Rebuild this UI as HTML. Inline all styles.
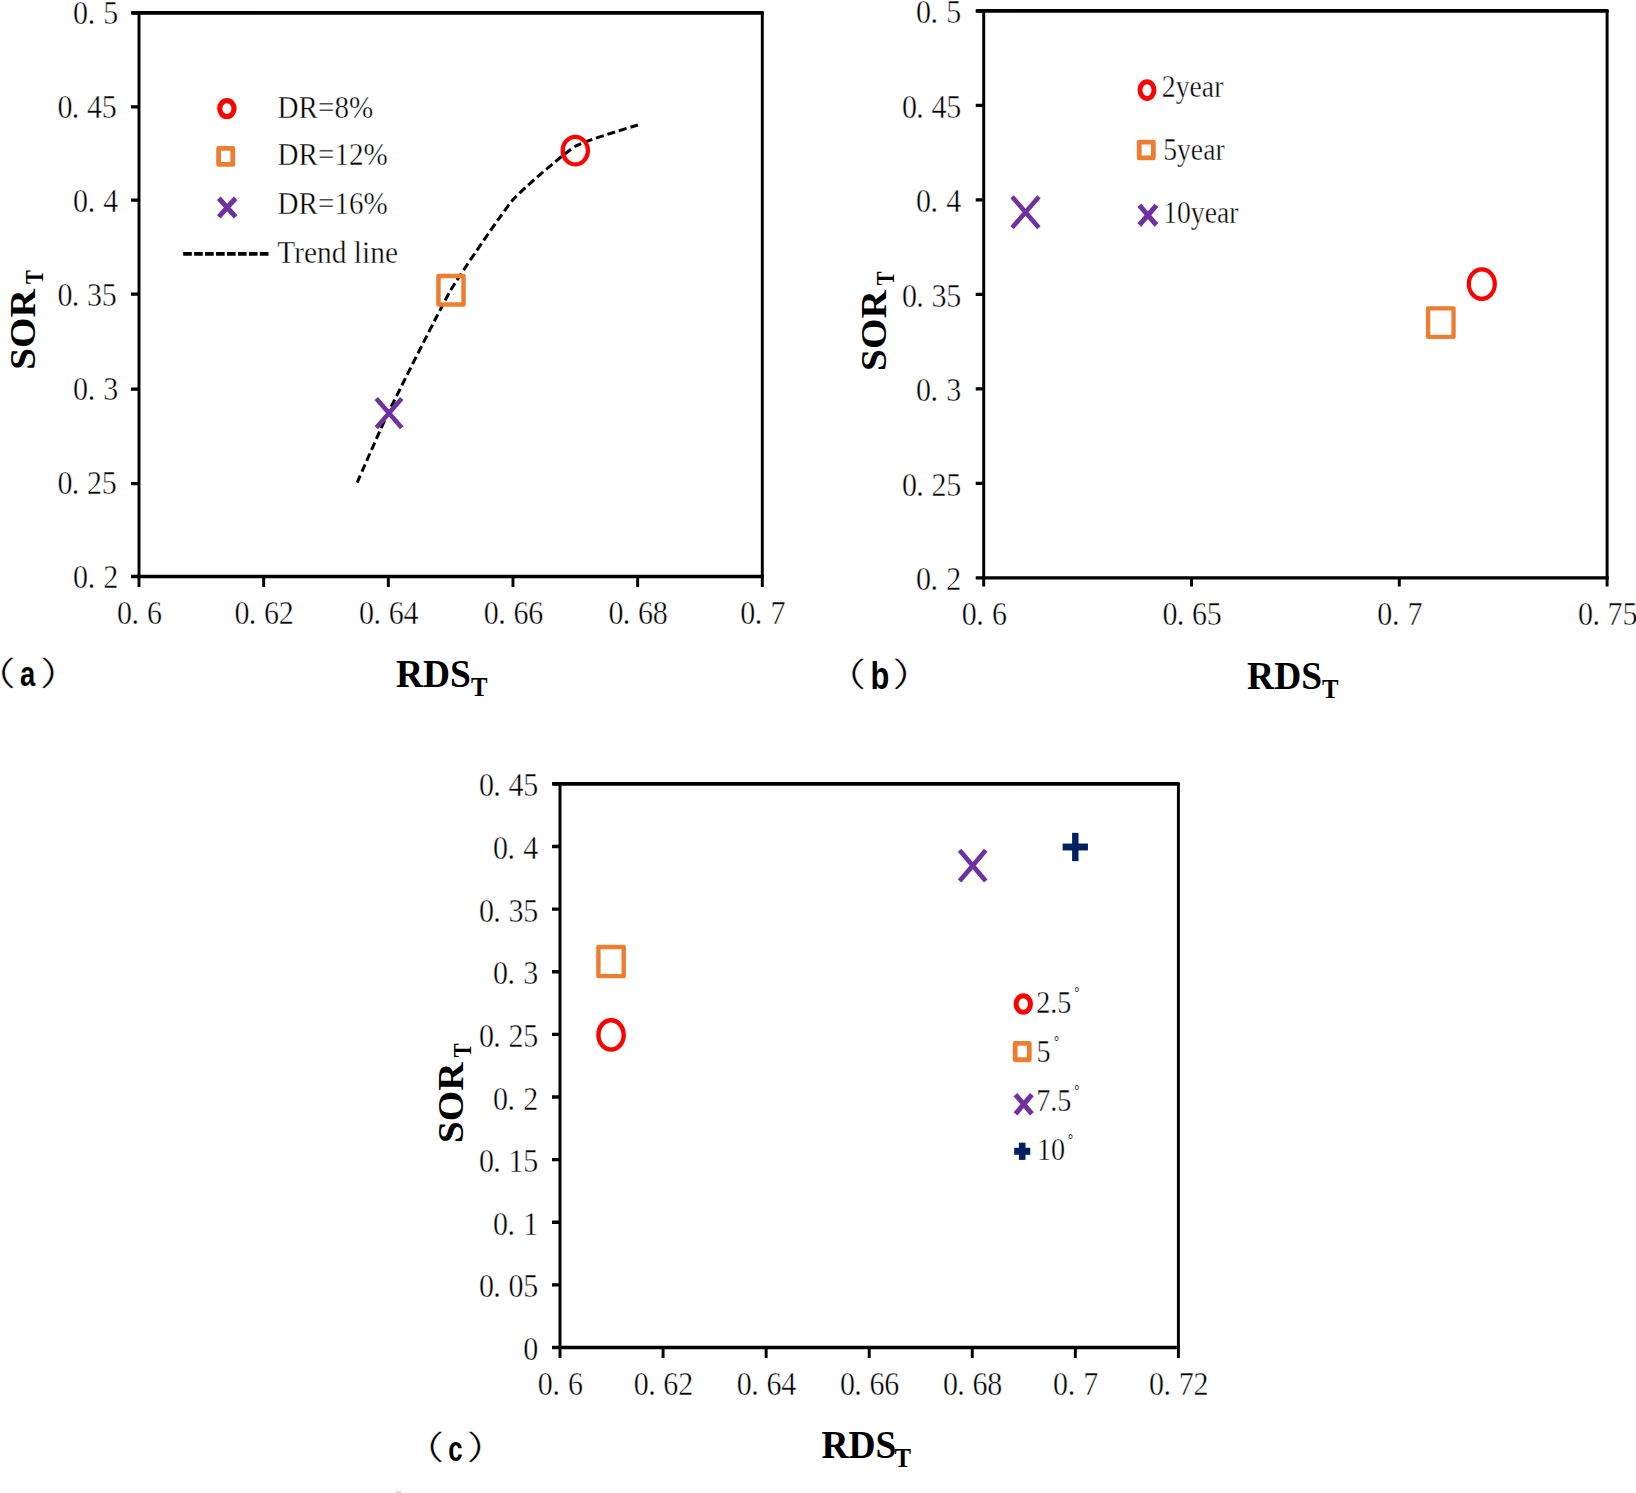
<!DOCTYPE html>
<html lang="en"><head><meta charset="utf-8"><title>SOR_T versus RDS_T</title>
<style>
html,body{margin:0;padding:0;background:#fff}
body{width:1636px;height:1493px;overflow:hidden}
svg{display:block}
text{fill:#000;white-space:pre}
.d{font-family:"Liberation Serif","Noto Serif CJK SC",serif;font-size:34.5px;stroke:#fff;stroke-width:.45px}
.s{font-family:"Liberation Serif","Noto Serif CJK SC",serif;stroke:#fff;stroke-width:.4px}
.g{font-family:"Liberation Serif","Noto Serif CJK SC",serif;fill:#222}
.b{font-family:"Liberation Serif","Noto Serif CJK SC",serif;font-weight:700}
.t{font-family:"Liberation Sans","Noto Sans CJK SC",sans-serif;font-weight:700}
.p{font-family:"Liberation Sans","Noto Sans CJK SC",sans-serif;font-weight:400;stroke:#fff;stroke-width:.45px}
</style></head><body>
<svg width="1636" height="1493" viewBox="0 0 1636 1493">
<rect width="1636" height="1493" fill="#fff"/>
<path d="M132.9 12.85H762.3" stroke="#000" stroke-width="3.8" fill="none" stroke-linecap="round"/>
<path d="M139.0 576.5H762.3" stroke="#000" stroke-width="3.3" fill="none" stroke-linecap="square"/>
<path d="M139.0 12.85V576.5M762.3 12.85V576.5" stroke="#000" stroke-width="2.95" fill="none" stroke-linecap="round"/>
<path d="M139.00 576.5V587.0M263.66 576.5V587.0M388.32 576.5V587.0M512.98 576.5V587.0M637.64 576.5V587.0M762.30 576.5V587.0" stroke="#000" stroke-width="2.95" fill="none"/>
<path d="M139.0 576.50H131.0M139.0 483.60H131.0M139.0 389.10H131.0M139.0 294.10H131.0M139.0 200.20H131.0M139.0 106.80H131.0M139.0 12.85H131.0" stroke="#000" stroke-width="3.3" fill="none"/>
<text class="d" transform="scale(0.87,1)" x="83.96 100.77 118.67" y="588.00">0.2</text>
<text class="d" transform="scale(0.87,1)" x="65.97 82.53 100.00 117.01" y="494.06">0.25</text>
<text class="d" transform="scale(0.87,1)" x="83.96 100.77 118.67" y="400.12">0.3</text>
<text class="d" transform="scale(0.87,1)" x="65.97 82.53 100.00 117.01" y="306.17">0.35</text>
<text class="d" transform="scale(0.87,1)" x="83.96 100.77 118.67" y="212.23">0.4</text>
<text class="d" transform="scale(0.87,1)" x="65.97 82.53 100.00 117.01" y="118.29">0.45</text>
<text class="d" transform="scale(0.87,1)" x="83.96 100.77 118.67" y="24.35">0.5</text>
<text class="d" transform="scale(0.87,1)" x="134.36 151.17 169.08" y="623.60">0.6</text>
<text class="d" transform="scale(0.87,1)" x="269.49 286.05 303.51 320.52" y="623.60">0.62</text>
<text class="d" transform="scale(0.87,1)" x="412.78 429.34 446.80 463.81" y="623.60">0.64</text>
<text class="d" transform="scale(0.87,1)" x="556.06 572.63 590.09 607.10" y="623.60">0.66</text>
<text class="d" transform="scale(0.87,1)" x="699.35 715.91 733.37 750.39" y="623.60">0.68</text>
<text class="d" transform="scale(0.87,1)" x="850.80 867.61 885.51" y="623.60">0.7</text>
<path d="M357.16 482.56C359.49 477.32 381.31 427.08 388.32 412.67C395.33 398.25 441.30 306.32 450.65 290.35C460.00 274.39 503.63 210.60 512.98 199.79C522.33 188.99 565.91 151.87 575.31 146.25C584.71 140.62 633.54 126.43 638.26 124.83" fill="none" stroke="#000" stroke-width="3" stroke-dasharray="8 3.9"/>
<ellipse cx="575.30" cy="150.60" rx="12.60" ry="13.80" fill="none" stroke="#FF0000" stroke-width="4.3"/>
<rect x="438.45" y="276.05" width="25.10" height="28.50" fill="none" stroke="#ED7D31" stroke-width="4.5" stroke-linejoin="round"/>
<path d="M376.28 398.51L401.72 427.69M376.28 427.69L401.72 398.51" fill="none" stroke="#7030A0" stroke-width="4.6"/>
<ellipse cx="226.90" cy="108.60" rx="7.15" ry="7.90" fill="none" stroke="#FF0000" stroke-width="5.2"/>
<rect x="218.60" y="148.40" width="14.20" height="16.00" fill="none" stroke="#ED7D31" stroke-width="4.8" stroke-linejoin="round"/>
<path d="M218.81 198.27L235.59 216.93M218.81 216.93L235.59 198.27" fill="none" stroke="#7030A0" stroke-width="5.0"/>
<path d="M183.2 253.8H268.6" stroke="#000" stroke-width="3.8" stroke-dasharray="8.6 2.35" fill="none"/>
<text class="s" transform="translate(277.60,117.80) scale(0.945,1)" font-size="30.8" >DR=8%</text>
<text class="s" transform="translate(277.60,165.10) scale(0.945,1)" font-size="30.8" >DR=12%</text>
<text class="s" transform="translate(277.60,213.80) scale(0.945,1)" font-size="30.8" >DR=16%</text>
<text class="s" transform="translate(277.30,263.10) scale(0.934,1)" font-size="31.5" >Trend line</text>
<text class="b" transform="translate(35.40,369.80) rotate(-90) scale(1,0.925)" font-size="39.2">SOR</text>
<text class="b" transform="translate(43.20,284.10) rotate(-90) scale(0.78,0.925)" font-size="26.6">T</text>
<text class="b" transform="translate(396.00,686.50) scale(0.925,1)" font-size="40.5">RDS<tspan font-size="26.8" dy="9" dx="0">T</tspan></text>
<text class="p" transform="translate(-30.80,685.10) scale(1.42,1)" font-size="33">（</text>
<text class="t" transform="translate(19.90,686.30) scale(0.76,1)" font-size="36">a</text>
<text class="p" transform="translate(39.60,685.10) scale(1.42,1)" font-size="33">）</text>
<path d="M977.6 10.95H1607.1" stroke="#000" stroke-width="3.8" fill="none" stroke-linecap="round"/>
<path d="M983.7 577.8H1607.1" stroke="#000" stroke-width="3.3" fill="none" stroke-linecap="square"/>
<path d="M983.7 10.95V577.8M1607.1 10.95V577.8" stroke="#000" stroke-width="2.95" fill="none" stroke-linecap="round"/>
<path d="M983.70 577.8V586.4M1191.50 577.8V586.4M1399.30 577.8V586.4M1607.10 577.8V586.4" stroke="#000" stroke-width="2.95" fill="none"/>
<path d="M983.7 577.80H975.7M983.7 483.32H975.7M983.7 388.85H975.7M983.7 294.37H975.7M983.7 199.90H975.7M983.7 105.43H975.7M983.7 10.95H975.7" stroke="#000" stroke-width="3.3" fill="none"/>
<text class="d" transform="scale(0.87,1)" x="1052.81 1069.62 1087.52" y="590.20">0.2</text>
<text class="d" transform="scale(0.87,1)" x="1036.66 1053.22 1070.69 1087.70" y="495.72">0.25</text>
<text class="d" transform="scale(0.87,1)" x="1052.81 1069.62 1087.52" y="401.25">0.3</text>
<text class="d" transform="scale(0.87,1)" x="1036.66 1053.22 1070.69 1087.70" y="306.77">0.35</text>
<text class="d" transform="scale(0.87,1)" x="1052.81 1069.62 1087.52" y="212.30">0.4</text>
<text class="d" transform="scale(0.87,1)" x="1036.66 1053.22 1070.69 1087.70" y="117.83">0.45</text>
<text class="d" transform="scale(0.87,1)" x="1052.81 1069.62 1087.52" y="23.35">0.5</text>
<text class="d" transform="scale(0.87,1)" x="1105.40 1122.21 1140.11" y="624.80">0.6</text>
<text class="d" transform="scale(0.87,1)" x="1336.09 1352.65 1370.11 1387.12" y="624.80">0.65</text>
<text class="d" transform="scale(0.87,1)" x="1583.10 1599.91 1617.81" y="624.80">0.7</text>
<text class="d" transform="scale(0.87,1)" x="1813.79 1830.35 1847.81 1864.82" y="624.80">0.75</text>
<ellipse cx="1481.80" cy="284.10" rx="13.00" ry="14.70" fill="none" stroke="#FF0000" stroke-width="4.2"/>
<rect x="1428.05" y="308.30" width="25.50" height="28.60" fill="none" stroke="#ED7D31" stroke-width="4.3" stroke-linejoin="round"/>
<path d="M1012.09 196.76L1038.91 227.64M1012.09 227.64L1038.91 196.76" fill="none" stroke="#7030A0" stroke-width="4.6"/>
<ellipse cx="1147.00" cy="90.10" rx="7.00" ry="8.40" fill="none" stroke="#FF0000" stroke-width="4.9"/>
<rect x="1139.25" y="142.05" width="14.10" height="15.90" fill="none" stroke="#ED7D31" stroke-width="4.8" stroke-linejoin="round"/>
<path d="M1139.39 205.39L1156.41 225.01M1139.39 225.01L1156.41 205.39" fill="none" stroke="#7030A0" stroke-width="5.0"/>
<text class="s" transform="translate(1161.80,96.80) scale(0.895,1)" font-size="31" >2year</text>
<text class="s" transform="translate(1163.20,160.10) scale(0.893,1)" font-size="31" >5year</text>
<text class="s" transform="translate(1163.20,223.40) scale(0.893,1)" font-size="31" >10year</text>
<text class="b" transform="translate(886.30,370.90) rotate(-90) scale(1,0.925)" font-size="39.2">SOR</text>
<text class="b" transform="translate(894.10,285.20) rotate(-90) scale(0.78,0.925)" font-size="26.6">T</text>
<text class="b" transform="translate(1247.10,688.60) scale(0.925,1)" font-size="40.5">RDS<tspan font-size="26.8" dy="9" dx="0">T</tspan></text>
<text class="p" transform="translate(819.60,686.40) scale(1.42,1)" font-size="33">（</text>
<text class="t" transform="translate(870.60,688.50) scale(0.8,1)" font-size="38.5">b</text>
<text class="p" transform="translate(891.90,686.40) scale(1.42,1)" font-size="33">）</text>
<path d="M553.9 783.85H1178.4" stroke="#000" stroke-width="3.8" fill="none" stroke-linecap="round"/>
<path d="M560.0 1347.5H1178.4" stroke="#000" stroke-width="3.3" fill="none" stroke-linecap="square"/>
<path d="M560.0 783.85V1347.5M1178.4 783.85V1347.5" stroke="#000" stroke-width="2.95" fill="none" stroke-linecap="round"/>
<path d="M560.00 1347.5V1358.0M663.07 1347.5V1358.0M766.13 1347.5V1358.0M869.20 1347.5V1358.0M972.27 1347.5V1358.0M1075.33 1347.5V1358.0M1178.40 1347.5V1358.0" stroke="#000" stroke-width="2.95" fill="none"/>
<path d="M560.0 1347.50H552.0M560.0 1284.87H552.0M560.0 1222.24H552.0M560.0 1159.62H552.0M560.0 1096.99H552.0M560.0 1034.36H552.0M560.0 971.73H552.0M560.0 909.11H552.0M560.0 846.48H552.0M560.0 783.85H552.0" stroke="#000" stroke-width="3.3" fill="none"/>
<text class="d" transform="scale(0.87,1)" x="601.32" y="1360.10">0</text>
<text class="d" transform="scale(0.87,1)" x="550.46 567.02 584.48 601.49" y="1297.47">0.05</text>
<text class="d" transform="scale(0.87,1)" x="566.60 583.41 601.32" y="1234.84">0.1</text>
<text class="d" transform="scale(0.87,1)" x="550.46 567.02 584.48 601.49" y="1172.22">0.15</text>
<text class="d" transform="scale(0.87,1)" x="566.60 583.41 601.32" y="1109.59">0.2</text>
<text class="d" transform="scale(0.87,1)" x="550.46 567.02 584.48 601.49" y="1046.96">0.25</text>
<text class="d" transform="scale(0.87,1)" x="566.60 583.41 601.32" y="984.33">0.3</text>
<text class="d" transform="scale(0.87,1)" x="550.46 567.02 584.48 601.49" y="921.71">0.35</text>
<text class="d" transform="scale(0.87,1)" x="566.60 583.41 601.32" y="859.08">0.4</text>
<text class="d" transform="scale(0.87,1)" x="550.46 567.02 584.48 601.49" y="796.45">0.45</text>
<text class="d" transform="scale(0.87,1)" x="618.16 634.97 652.87" y="1394.80">0.6</text>
<text class="d" transform="scale(0.87,1)" x="728.46 745.02 762.49 779.50" y="1394.80">0.62</text>
<text class="d" transform="scale(0.87,1)" x="846.93 863.49 880.95 897.97" y="1394.80">0.64</text>
<text class="d" transform="scale(0.87,1)" x="965.40 981.96 999.42 1016.43" y="1394.80">0.66</text>
<text class="d" transform="scale(0.87,1)" x="1083.87 1100.43 1117.89 1134.90" y="1394.80">0.68</text>
<text class="d" transform="scale(0.87,1)" x="1210.49 1227.30 1245.21" y="1394.80">0.7</text>
<text class="d" transform="scale(0.87,1)" x="1320.80 1337.36 1354.82 1371.83" y="1394.80">0.72</text>
<rect x="598.40" y="947.05" width="25.30" height="29.10" fill="none" stroke="#ED7D31" stroke-width="4.4" stroke-linejoin="round"/>
<ellipse cx="611.05" cy="1034.90" rx="12.65" ry="14.70" fill="none" stroke="#FF0000" stroke-width="4.4"/>
<path d="M959.64 850.27L985.76 880.93M959.64 880.93L985.76 850.27" fill="none" stroke="#7030A0" stroke-width="4.7"/>
<path d="M1062.65 847.00H1087.95" stroke="#002060" stroke-width="6.9" fill="none"/>
<path d="M1075.30 832.85V861.15" stroke="#002060" stroke-width="6.4" fill="none"/>
<ellipse cx="1023.30" cy="1004.00" rx="7.20" ry="8.25" fill="none" stroke="#FF0000" stroke-width="5.0"/>
<rect x="1015.15" y="1043.45" width="14.10" height="16.30" fill="none" stroke="#ED7D31" stroke-width="4.8" stroke-linejoin="round"/>
<path d="M1015.50 1094.67L1031.90 1113.93M1015.50 1113.93L1031.90 1094.67" fill="none" stroke="#7030A0" stroke-width="5.0"/>
<path d="M1014.15 1151.30H1030.25" stroke="#002060" stroke-width="7.0" fill="none"/>
<path d="M1022.20 1142.70V1159.90" stroke="#002060" stroke-width="6.6" fill="none"/>
<text class="s" transform="translate(1036.20,1012.90) scale(0.868,1)" font-size="32.5" >2.5</text>
<text class="g" transform="translate(1074.20,997.50) scale(0.8,1)" font-size="16">°</text>
<text class="s" transform="translate(1036.60,1062.40) scale(0.868,1)" font-size="32.5" >5</text>
<text class="g" transform="translate(1053.90,1046.70) scale(0.8,1)" font-size="16">°</text>
<text class="s" transform="translate(1036.20,1111.40) scale(0.868,1)" font-size="32.5" >7.5</text>
<text class="g" transform="translate(1074.20,1096.00) scale(0.8,1)" font-size="16">°</text>
<text class="s" transform="translate(1037.00,1159.90) scale(0.868,1)" font-size="32.5" >10</text>
<text class="g" transform="translate(1067.90,1144.80) scale(0.8,1)" font-size="16">°</text>
<text class="b" transform="translate(463.40,1143.00) rotate(-90) scale(1,0.925)" font-size="39.2">SOR</text>
<text class="b" transform="translate(471.20,1057.30) rotate(-90) scale(0.78,0.925)" font-size="26.6">T</text>
<text class="b" transform="translate(821.50,1457.90) scale(0.925,1)" font-size="40.5">RDS<tspan font-size="26.8" dy="9" dx="-2">T</tspan></text>
<text class="p" transform="translate(397.70,1459.10) scale(1.42,1)" font-size="33">（</text>
<text class="t" transform="translate(448.30,1461.00) scale(0.72,1)" font-size="36">c</text>
<text class="p" transform="translate(466.20,1459.10) scale(1.42,1)" font-size="33">）</text>
<rect x="396" y="1491" width="5" height="2" fill="#dcdcdc"/>
</svg>
</body></html>
